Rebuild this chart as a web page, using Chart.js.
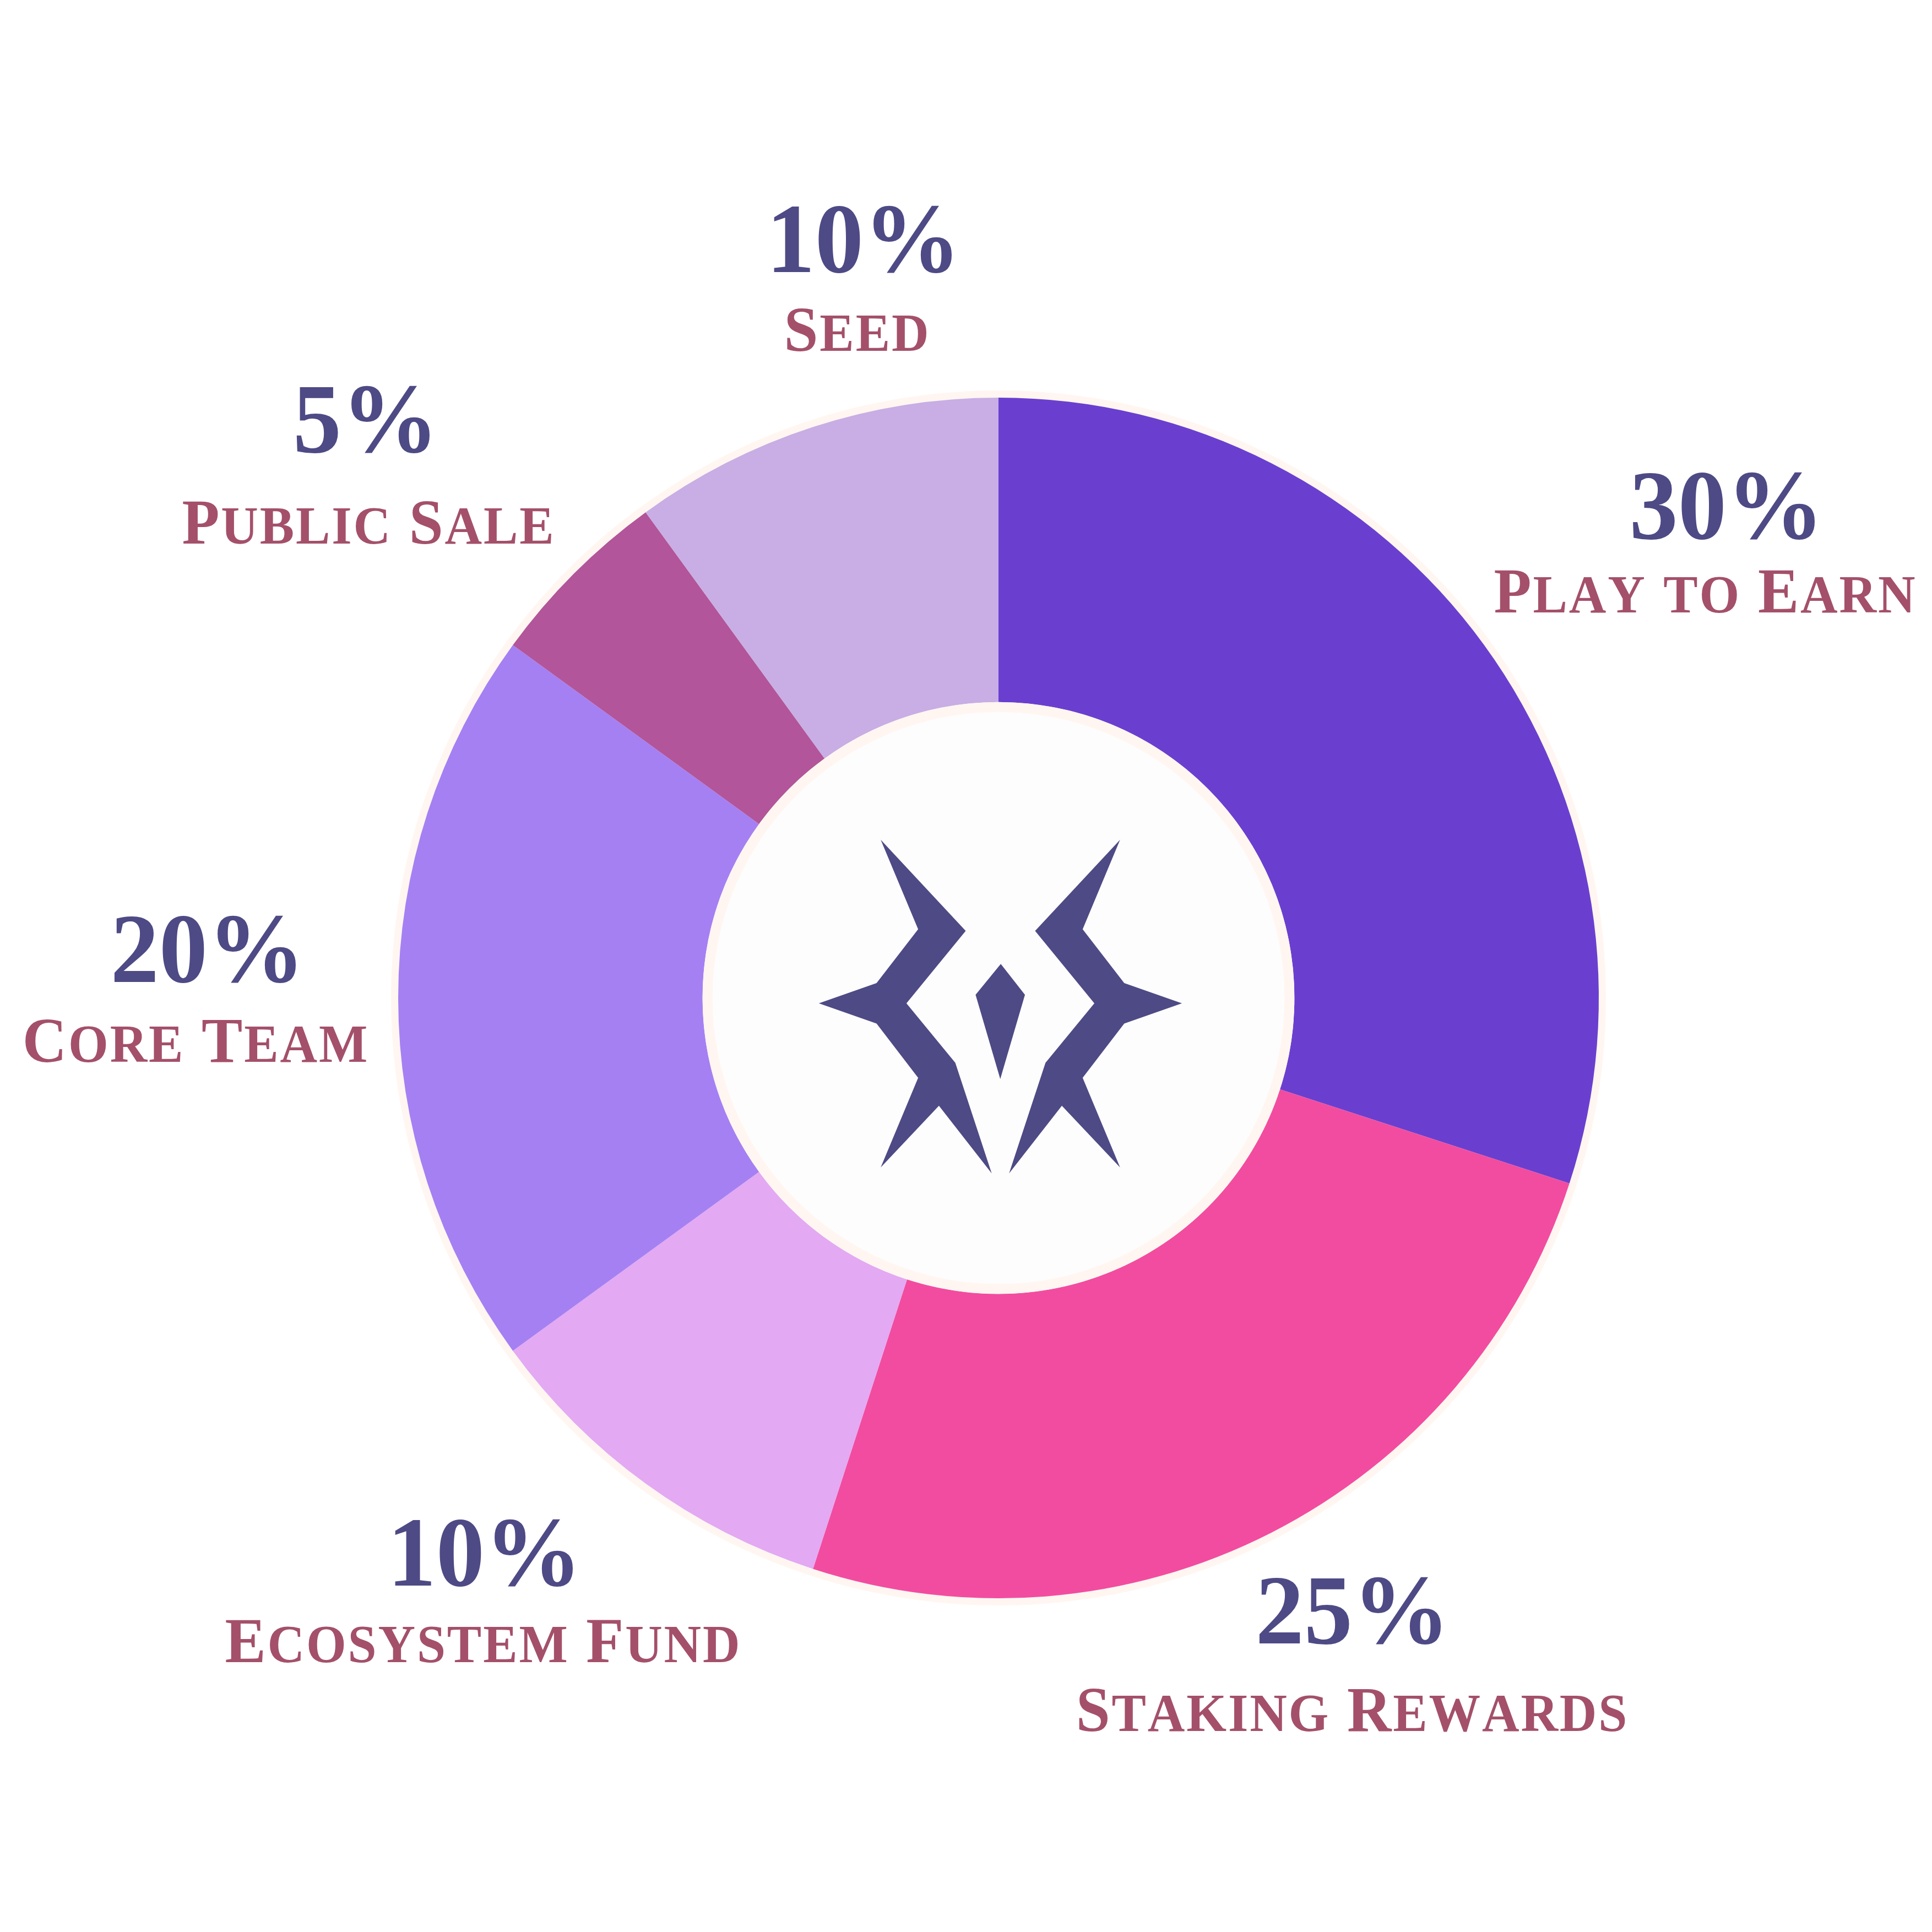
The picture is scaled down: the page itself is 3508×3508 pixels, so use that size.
<!DOCTYPE html>
<html><head><meta charset="utf-8">
<script src="https://cdn.jsdelivr.net/npm/chart.js@4.4.0/dist/chart.umd.min.js"></script>
<style>html,body{margin:0;padding:0;background:#fff;} canvas{display:block;}</style>
</head><body>
<canvas id="c" width="3508" height="3508" style="width:3508px;height:3508px"></canvas>
<script>
const categories = ['Play to Earn', 'Staking Rewards', 'Ecosystem Fund', 'Core Team', 'Public Sale', 'Seed'];
const shares = [30, 25, 10, 20, 5, 10];
const percentLabels = ['30%', '25%', '10%', '20%', '5%', '10%'];
const sliceColors = ['#6A3FCF', '#F24CA0', '#E3A9F3', '#A580F3', '#B2559A', '#C8AEE4'];

// Label placement relative to ring centre: [pctX, pctBaseline, nameX, nameBaseline]
const labelLayout = [
  [1322, -834, 1282, -700],
  [643, 1172, 641, 1331],
  [-933, 1067, -937, 1206],
  [-1436, -29, -1459, 116],
  [-1149, -991, -1145, -825],
  [-245, -1318, -258, -1175]
];

const FAMILY = '"Liberation Serif", "DejaVu Serif", serif';
const PCT_COLOR = '#4E4A85';
const NAME_COLOR = '#A4506A';

function drawSmallCaps(ctx, text, cx, baseline, size, ratio, tracking, scaleX) {
  const runs = [];
  for (const ch of text) {
    const big = ch === ' ' || ch !== ch.toLowerCase();
    runs.push({ch: ch.toUpperCase(), size: big ? size : size * ratio});
  }
  let total = 0;
  for (const r of runs) {
    ctx.font = 'bold ' + r.size + 'px ' + FAMILY;
    r.w = ctx.measureText(r.ch).width + tracking;
    total += r.w;
  }
  total -= tracking;
  ctx.save();
  ctx.translate(cx, baseline);
  ctx.scale(scaleX, 1);
  let x = -total / 2;
  ctx.textBaseline = 'alphabetic';
  ctx.textAlign = 'left';
  for (const r of runs) {
    ctx.font = 'bold ' + r.size + 'px ' + FAMILY;
    ctx.fillText(r.ch, x, 0);
    x += r.w;
  }
  ctx.restore();
}

const leftMark = [[333,103],[660,485],[432,788],[620,1037],[760,1500],[557,1217],[333,1475],[477,1100],[317,873],[95,788],[317,703],[477,478]];
const gem = [[795,623],[888,752],[793,1105],[698,752]];

const decor = {
  id: 'decor',
  beforeDatasetsDraw(chart) {
    const arc = chart.getDatasetMeta(0).data[0];
    if (!arc) return;
    const ctx = chart.ctx;
    const {x, y, outerRadius} = arc.getProps(['x','y','outerRadius','innerRadius'], true);
    ctx.save();
    ctx.beginPath();
    ctx.arc(x, y, outerRadius + 13, 0, Math.PI * 2);
    ctx.fillStyle = '#FFF6F1';
    ctx.fill();
    ctx.restore();
  },
  afterDatasetsDraw(chart) {
    const arc = chart.getDatasetMeta(0).data[0];
    if (!arc) return;
    const ctx = chart.ctx;
    const {x, y, innerRadius} = arc.getProps(['x','y','outerRadius','innerRadius'], true);
    ctx.save();
    ctx.beginPath();
    ctx.arc(x, y, innerRadius, 0, Math.PI * 2);
    ctx.fillStyle = '#FFF6F1';
    ctx.fill();
    ctx.beginPath();
    ctx.arc(x, y, innerRadius - 18, 0, Math.PI * 2);
    ctx.fillStyle = '#FDFDFD';
    ctx.fill();

    // centre emblem
    ctx.translate(x - 371, y - 332);
    ctx.scale(0.4719, 0.4337);
    ctx.fillStyle = '#4E4A85';
    const poly = (pts, mirror) => {
      ctx.beginPath();
      pts.forEach((p, i) => {
        const px = mirror ? 1587 - p[0] : p[0];
        if (i === 0) ctx.moveTo(px, p[1]); else ctx.lineTo(px, p[1]);
      });
      ctx.closePath();
      ctx.fill();
    };
    poly(leftMark, false);
    poly(leftMark, true);
    poly(gem, false);
    ctx.restore();

    // labels
    ctx.save();
    percentLabels.forEach((t, i) => {
      const L = labelLayout[i];
      ctx.save();
      ctx.translate(x + L[0], y + L[1]);
      ctx.scale(0.98, 1);
      ctx.font = 'bold 180px ' + FAMILY;
      ctx.textAlign = 'center';
      ctx.textBaseline = 'alphabetic';
      ctx.fillStyle = PCT_COLOR;
      ctx.fillText(t, 0, 0);
      ctx.restore();
    });
    ctx.fillStyle = NAME_COLOR;
    categories.forEach((t, i) => {
      const L = labelLayout[i];
      drawSmallCaps(ctx, t, x + L[2], y + L[3], 116, 0.84, 3, 0.96);
    });
    ctx.restore();
  }
};

new Chart(document.getElementById('c'), {
  type: 'doughnut',
  data: {
    labels: categories,
    datasets: [{
      data: shares,
      backgroundColor: sliceColors,
      borderColor: sliceColors,
      borderWidth: 0
    }]
  },
  options: {
    responsive: false,
    devicePixelRatio: 1,
    animation: false,
    cutout: '49.3%',
    rotation: 0,
    layout: {padding: {left: 722, right: 604, top: 722, bottom: 606}},
    plugins: {legend: {display: false}, tooltip: {enabled: false}}
  },
  plugins: [decor]
});
</script>
</body></html>
